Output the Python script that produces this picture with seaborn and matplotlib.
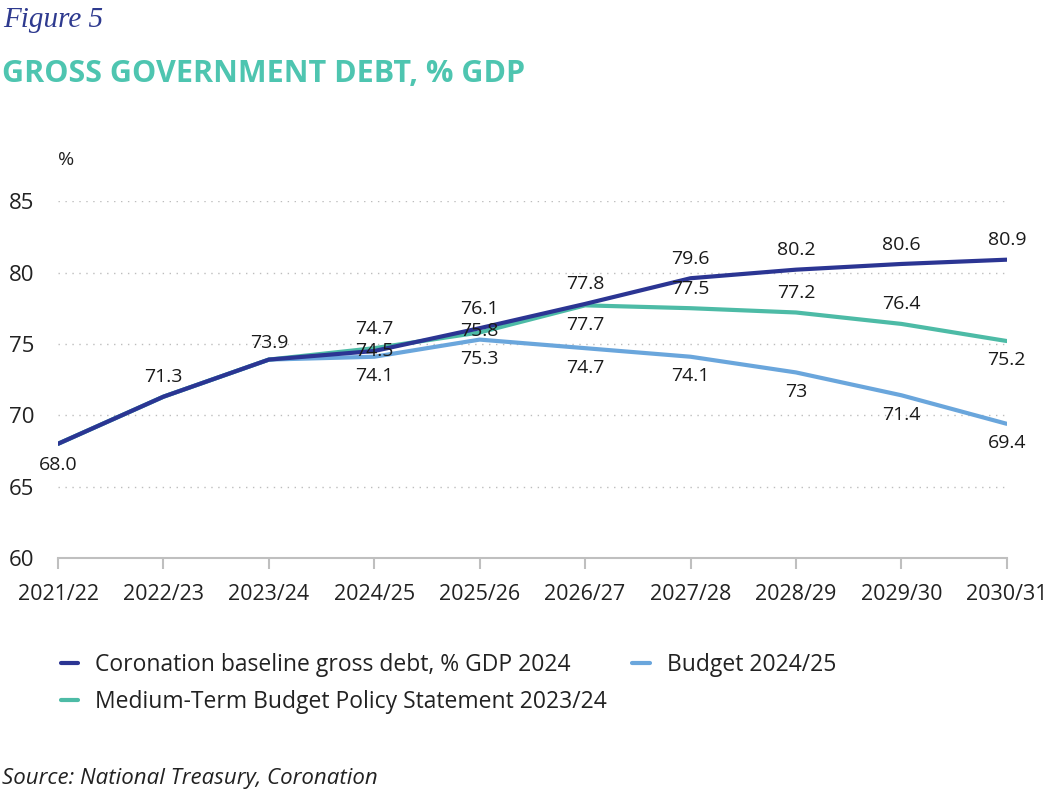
import matplotlib
matplotlib.use("Agg")
import matplotlib.pyplot as plt
import seaborn as sns
import pandas as pd

years = ["2021/22", "2022/23", "2023/24", "2024/25", "2025/26",
         "2026/27", "2027/28", "2028/29", "2029/30", "2030/31"]
coronation = [68.0, 71.3, 73.9, 74.5, 76.1, 77.8, 79.6, 80.2, 80.6, 80.9]
mtbps = [68.0, 71.3, 73.9, 74.7, 75.8, 77.7, 77.5, 77.2, 76.4, 75.2]
budget = [68.0, 71.3, 73.9, 74.1, 75.3, 74.7, 74.1, 73.0, 71.4, 69.4]
coronation_labels = [None, None, None, "74.5", "76.1", "77.8", "79.6", "80.2", "80.6", "80.9"]
mtbps_labels = [None, None, None, "74.7", "75.8", "77.7", "77.5", "77.2", "76.4", "75.2"]
budget_labels = ["68.0", "71.3", "73.9", "74.1", "75.3", "74.7", "74.1", "73", "71.4", "69.4"]

names = ["Coronation baseline gross debt, % GDP 2024",
         "Medium-Term Budget Policy Statement 2023/24",
         "Budget 2024/25"]
colors = ["#2b3593", "#4dbba6", "#6aa6dc"]

sns.set_theme(style="white")
plt.rcParams["font.family"] = ["Open Sans", "DejaVu Sans"]

df = pd.concat([
    pd.DataFrame({"year": years, "value": coronation, "series": names[0]}),
    pd.DataFrame({"year": years, "value": mtbps, "series": names[1]}),
    pd.DataFrame({"year": years, "value": budget, "series": names[2]}),
])

fig = plt.figure(figsize=(10.63, 7.92), dpi=100)
ax = fig.add_axes([0.0546, 0.2955, 0.8925, 0.4505])

order_draw = [names[2], names[1], names[0]]
for nm in order_draw:
    sub = df[df["series"] == nm]
    sns.lineplot(data=sub, x="year", y="value", color=colors[names.index(nm)],
                 linewidth=3, ax=ax, sort=False, label=nm, legend=False)

ax.set_ylim(60, 85)
ax.set_xlim(0, len(years) - 1)
ax.set_yticks([60, 65, 70, 75, 80, 85])
ax.set_xlabel("")
ax.set_ylabel("")
for y in [65, 70, 75, 80, 85]:
    ax.axhline(y, color="#bdbdbd", linestyle=(0, (1, 4)), linewidth=1, zorder=0)

for s in ["top", "right", "left"]:
    ax.spines[s].set_visible(False)
ax.spines["bottom"].set_color("#bfbfbf")
ax.spines["bottom"].set_linewidth(1.5)
ax.tick_params(axis="x", bottom=True, length=8, width=1.5, color="#bfbfbf",
               labelsize=15.5, pad=11, labelcolor="#222222")
ax.tick_params(axis="y", left=False, labelsize=16, pad=11, labelcolor="#222222")

ax.text(0.0, 1.115, "%", transform=ax.transAxes, fontsize=14, color="#222222",
        ha="left", va="center")

cor_off = [0, 0, 0, 0, 14, 14, 14, 14, 14, 14]
mt_off = [0, 0, 0, 14, 1, -14, 14, 14, 14, -14]
bu_off = [-15, 14, 12, -14, -14, -14, -14, -14, -14, -14]
for vals, labs, offs in [(coronation, coronation_labels, cor_off),
                         (mtbps, mtbps_labels, mt_off),
                         (budget, budget_labels, bu_off)]:
    for i, (v, lab, o) in enumerate(zip(vals, labs, offs)):
        if lab is None:
            continue
        ax.annotate(lab, (i, v), xytext=(0, o), textcoords="offset points",
                    ha="center", va="center", fontsize=14, color="#1a1a1a",
                    fontweight="medium", annotation_clip=False)

fig.text(0.003, 0.975, "Figure 5", fontsize=21, style="italic", color="#2e3a8f",
         family=["Liberation Serif", "DejaVu Serif"], va="center", ha="left")
fig.text(0.002, 0.906, "GROSS GOVERNMENT DEBT, % GDP", fontsize=22, fontweight="bold",
         color="#4ec5b0", va="center", ha="left")

handles = [plt.Line2D([0], [0], color=c, linewidth=3) for c in colors]
fig.legend(handles, names, loc="upper left", bbox_to_anchor=(0.038, 0.202),
           ncol=2, frameon=False, fontsize=16.5, handlelength=0.75,
           columnspacing=1.1, handletextpad=0.75, labelspacing=0.6,
           labelcolor="#222222")

fig.text(0.002, 0.017, "Source: National Treasury, Coronation", fontsize=16,
         style="italic", color="#222222", va="center", ha="left")

fig.savefig("out.png", dpi=100)
